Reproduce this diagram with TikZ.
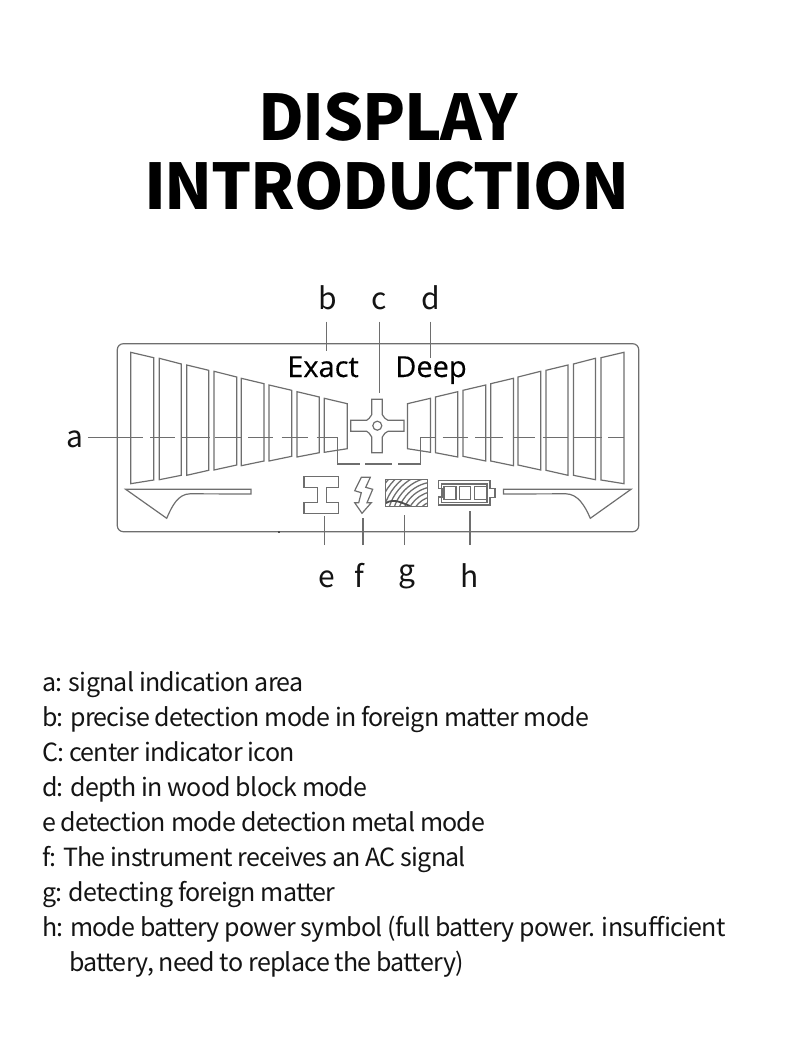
\documentclass[tikz,border=0pt]{standalone}
\usepackage{fontspec}
\setmainfont{Noto Sans CJK SC}
\newfontfamily\lcdfont[FakeBold=0.25]{Open Sans}
\newfontfamily\legendfont[LetterSpace=-2.95]{Noto Sans CJK SC}
\newfontfamily\headfont[LetterSpace=-2.0]{Noto Sans CJK SC}
\definecolor{lcdline}{HTML}{6E6E6E}
\definecolor{inkdark}{HTML}{141414}
\newcommand{\lcdbars}{%
  \foreach \xa/\ya/\xb/\yb/\yc/\yd in {
    130.7/352.3/153.7/357.7/480.0/483.7,
    159.3/358.3/181.3/364.0/475.3/479.7,
    186.7/365.0/208.7/370.3/470.3/475.3,
    214.0/371.3/236.7/377.0/465.0/470.0,
    241.3/378.3/264.0/383.7/461.0/465.7,
    269.0/385.0/291.7/390.3/456.3/461.0,
    297.0/391.7/319.3/397.0/452.7/457.0,
    324.3/398.3/347.3/403.7/448.7/452.3}
  {\draw[lcd] (\xa,\ya) -- (\xb,\yb) -- (\xb,\yc) -- (\xa,\yd) -- cycle;}%
}
\tikzset{
  lcd/.style={draw=lcdline,line width=1.2pt,line join=miter},
  leader/.style={draw=lcdline,line width=1.2pt},
  callout/.style={font=\fontsize{30}{30}\selectfont,text=inkdark,inner sep=0pt,anchor=base,text height=22pt,text depth=0pt},
  lcdword/.style={font=\lcdfont\fontsize{29}{29}\selectfont,text=black,inner sep=0pt,anchor=base},
  headline/.style={font=\headfont\bfseries\fontsize{63}{63}\selectfont,text=black,inner sep=0pt,anchor=base},
  legend/.style={font=\legendfont\fontsize{25}{25}\selectfont,text=inkdark,inner sep=0pt,anchor=base west},
}
\begin{document}
\begin{tikzpicture}[x=1pt,y=-1pt]
\useasboundingbox (0,0) rectangle (790,1062);

% heading
\node[headline] (title1) at (388,140) {DISPLAY};
\node[headline] (title2) at (387,209) {INTRODUCTION};

% display outline
\draw[lcd,rounded corners=6pt] (117.3,343.7) rectangle (638.7,531.7);
\draw[draw=lcdline!70!black,line width=2pt] (277.5,531.7) -- (279.5,531.7);

% signal bars on both sides
\lcdbars
\begin{scope}[shift={(754.7,0)},xscale=-1]
  \lcdbars
\end{scope}

% lower wedges
\draw[lcd] (125.7,489.3) -- (166.7,518.3) .. controls (172,506) and (178,494) .. (190,493.8)
  -- (251,494) -- (251,489.3) -- cycle;
\draw[lcd] (631,489.3) -- (590.3,518.3) .. controls (585,506) and (578,494) .. (566,493.8)
  -- (503.5,494) -- (503.5,489.3) -- cycle;

% centre target
\draw[lcd] (371.7,399.3) -- (382.3,399.3) -- (382.3,414.7)
  .. controls (384,417.5) and (385.5,419.5) .. (388,420.3)
  -- (404,420.3) -- (404,431.3) -- (388,431.3)
  .. controls (385.5,432) and (384,434) .. (382.3,437)
  -- (382.3,452.7) -- (371.7,452.7) -- (371.7,437)
  .. controls (370,434) and (368.5,432) .. (366.7,431.3)
  -- (350.7,431.3) -- (350.7,420.3) -- (366.7,420.3)
  .. controls (368.5,419.5) and (370,417.5) .. (371.7,414.7) -- cycle;
\draw[lcd] (377.3,425.7) circle (4.5);

% metal beam icon
\draw[lcd] (304,476.7) -- (338.7,476.7) -- (338.7,487.3) -- (326.3,487.3) -- (326.3,502.7)
  -- (338.7,502.7) -- (338.7,513.3) -- (304,513.3) -- (304,502.7) -- (317.3,502.7)
  -- (317.3,487.3) -- (304,487.3) -- cycle;

% AC lightning icon
\draw[lcd] (361.3,477.3) -- (370.3,477.3) -- (365.7,487.3) -- (372.7,489.3) -- (367,502.7)
  -- (371.3,502.7) -- (362,513.3) -- (354.7,502.7) -- (358.7,502.7) -- (361.3,492.7)
  -- (354.7,490.7) -- cycle;

% wood grain icon: growth rings clipped to the frame
\begin{scope}
  \clip (385.7,479.3) rectangle (427.3,506);
  \foreach \r in {20,24.8,...,68}
    \draw[lcdline,line width=1.3pt] (436,521) circle (\r);
  \draw[lcdline!70!black,line width=1.8pt] (386,503) .. controls (394,498) and (402,503) .. (410,506);
\end{scope}
\draw[lcd,line width=1pt] (385.7,479.3) rectangle (427.3,506);

% battery icon
\draw[lcd] (438.3,480.7) -- (490,480.7) -- (490,488.3) -- (495,488.3) -- (495,497.3) -- (490,497.3)
  -- (490,505) -- (438.3,505) -- (438.3,497) -- (442,497) -- (442,488.5) -- (438.3,488.5) -- cycle;
\draw[lcd] (441.7,484) rectangle (486.9,502.3);
\foreach \xa/\xb in {444/456,459.3/470.7,474.3/486.7}
  \draw[lcd] (\xa,486.7) rectangle (\xb,499.3);

% printed words on the display
\node[lcdword] (exact) at (323,377) {Exact};
\node[lcdword] (deep) at (431,377) {Deep};

% callout letters
\node[callout,outer ysep=12pt] (lb) at (327.5,309.5) {b};
\node[callout,outer ysep=12pt] (lc) at (379.5,309.5) {c};
\node[callout,outer ysep=12pt] (ld) at (430.5,309.5) {d};
\node[callout,outer xsep=5pt] (la) at (74.5,447) {a};
\node[callout,outer ysep=20pt] (le) at (326.5,587) {e};
\node[callout,outer ysep=20pt] (lf) at (359,587) {f};
\node[callout,outer ysep=14pt] (lg) at (406.5,581) {g};
\node[callout,outer ysep=20pt] (lh) at (469.5,587) {h};

% connector ends
\coordinate (bEnd) at (326.5,350.5);
\coordinate (cEnd) at (379.3,392.7);
\coordinate (dEnd) at (430.5,357.5);
\coordinate (eEnd) at (324.5,516);
\coordinate (fEnd) at (363,518);
\coordinate (gEnd) at (404.3,515);
\coordinate (hEnd) at (470,511);

\draw[leader] (lb.south -| bEnd) -- (bEnd);
\draw[leader] (lc.south -| cEnd) -- (cEnd);
\draw[leader] (ld.south -| dEnd) -- (dEnd);
\draw[leader] (le.north -| eEnd) -- (eEnd);
\draw[leader] (lf.north -| fEnd) -- (fEnd);
\draw[leader] (lg.north -| gEnd) -- (gEnd);
\draw[leader] (lh.north -| hEnd) -- (hEnd);

% dashed signal trace running through the bars
\coordinate (aEnd) at (142.7,437.7);
\draw[leader] (la.east |- aEnd) -- (aEnd);
\foreach \xa/\xb in {150/175,181.7/210,215/241.7,248/273,281.7/308}
  \draw[lcd] (\xa,437.7) -- (\xb,437.7);
\draw[lcd] (316.7,437.7) -- (337.3,437.7) -- (337.3,464) -- (360,464);
\draw[lcd] (365,464) -- (391.7,464);
\draw[lcd] (398,464) -- (420.7,464) -- (420.7,437.7) -- (435,437.7);
\foreach \xa/\xb in {442.7/468.3,475/503,512.7/535,542.7/568,574/601.7,608/623.5}
  \draw[lcd] (\xa,437.7) -- (\xb,437.7);

% legend
\node[legend] (t1) at (42,691) {a: signal indication area};
\node[legend] (t2) at (42,726) {b: precise detection mode in foreign matter mode};
\node[legend] (t3) at (42,761) {C: center indicator icon};
\node[legend] (t4) at (42,796) {d: depth in wood block mode};
\node[legend] (t5) at (42,831) {e detection mode detection metal mode};
\node[legend] (t6) at (42,866) {f: The instrument receives an AC signal};
\node[legend] (t7) at (42,901) {g: detecting foreign matter};
\node[legend] (t8) at (42,936) {h: mode battery power symbol (full battery power. insufficient};
\node[legend] (t9) at (69,971) {battery, need to replace the battery)};
\end{tikzpicture}
\end{document}
